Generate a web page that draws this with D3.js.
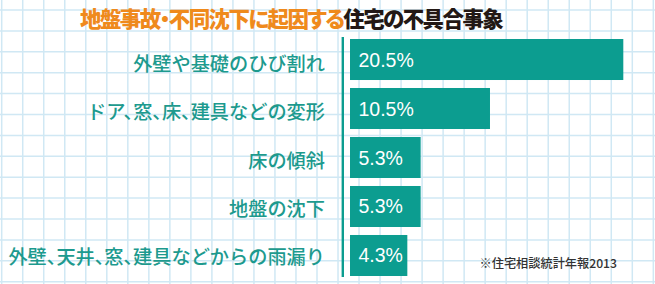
<!DOCTYPE html>
<html>
<head>
<meta charset="utf-8">
<script src="https://cdn.jsdelivr.net/npm/d3@7"></script>
<style>
  body { margin: 0; background: #fff; }
  .cat, .note { font-feature-settings: "halt"; }
  .title { font-feature-settings: "palt"; }
</style>
</head>
<body>
<div id="chart"></div>
<script>
// Data
const categories = [
    "外壁や基礎のひび割れ",
    "ドア、窓、床、建具などの変形",
    "床の傾斜",
    "地盤の沈下",
    "外壁、天井、窓、建具などからの雨漏り"
];
const values = [20.5, 10.5, 5.3, 5.3, 4.3];
const valueLabels = ["20.5%", "10.5%", "5.3%", "5.3%", "4.3%"];
const titleOrange = "地盤事故・不同沈下に起因する";
const titleBlack = "住宅の不具合事象";
const sourceNote = "※住宅相談統計年報2013";

function drawChart() {
    const width = 655;
    const height = 284;
    const teal = "#0c9d90";

    const svg = d3.select('#chart')
        .append('svg')
        .attr('width', width)
        .attr('height', height);

    // graph paper background
    const grid = svg.append('g').attr('class', 'grid')
        .attr('stroke', '#d0e8f4')
        .attr('stroke-width', 1.5);
    grid.selectAll('.vline')
        .data(d3.range(1.7, width + 1, 21.02))
        .enter().append('line')
        .attr('x1', d => d).attr('x2', d => d)
        .attr('y1', 0).attr('y2', height);
    grid.selectAll('.hline')
        .data(d3.range(10, height + 1, 20.9))
        .enter().append('line')
        .attr('y1', d => d).attr('y2', d => d)
        .attr('x1', 0).attr('x2', width);

    // Scales
    const x = d3.scaleLinear()
        .domain([0, 20.5])
        .range([350, 623.3]);

    const y = d3.scaleBand()
        .domain(categories)
        .range([39, 276])
        .paddingInner(0.163)
        .paddingOuter(0);

    const labelY = d3.scalePoint()
        .domain(categories)
        .range([63, 256]);

    // Bars
    svg.selectAll('.bar')
        .data(values)
        .enter().append('rect')
        .attr('class', 'bar')
        .attr('x', x(0))
        .attr('y', (d, i) => y(categories[i]))
        .attr('width', d => x(d) - x(0))
        .attr('height', y.bandwidth())
        .attr('fill', teal);

    // Value labels inside bars
    svg.selectAll('.value')
        .data(valueLabels)
        .enter().append('text')
        .attr('class', 'value')
        .attr('x', x(0) + 8.5)
        .attr('y', (d, i) => y(categories[i]) + y.bandwidth() / 2 + 7)
        .attr('fill', '#fff')
        .style('font-family', '"Liberation Sans", Arial, sans-serif')
        .style('font-size', '19.5px')
        .text(d => d);

    // Axis line (left of bars)
    const axis = svg.append('g')
        .attr('transform', 'translate(342.8, 0)')
        .call(d3.axisLeft(y).tickSize(0).tickFormat(''));
    axis.select('.domain')
        .attr('d', `M0,${y.range()[0] - 2}V${y.range()[1] + 1}`)
        .attr('stroke', teal)
        .attr('stroke-width', 2.4);

    // Category labels
    svg.selectAll('.cat')
        .data(categories)
        .enter().append('text')
        .attr('class', 'cat')
        .attr('x', 325)
        .attr('y', d => labelY(d))
        .attr('dominant-baseline', 'central')
        .attr('text-anchor', 'end')
        .attr('fill', '#1d9a8e')
        .style('font-family', '"Noto Sans CJK JP", sans-serif')
        .style('font-size', '19.2px')
        .style('font-weight', 500)
        .text(d => d);

    // Title
    const title = svg.append('text')
        .attr('class', 'title')
        .attr('x', 80)
        .attr('y', 26.5)
        .style('font-family', '"Noto Sans CJK JP", sans-serif')
        .style('font-size', '21.5px')
        .style('font-weight', 900)
        .style('letter-spacing', '-1.6px');
    title.append('tspan').attr('fill', '#ef8a1c').text(titleOrange);
    title.append('tspan').attr('fill', '#231815').text(titleBlack);

    // Source note
    svg.append('text')
        .attr('class', 'note')
        .attr('x', 617)
        .attr('y', 262.5)
        .attr('dominant-baseline', 'central')
        .attr('text-anchor', 'end')
        .attr('fill', '#333')
        .style('font-family', '"Noto Sans CJK JP", sans-serif')
        .style('font-size', '12.2px')
        .style('font-weight', 500)
        .text(sourceNote);
}

document.addEventListener('DOMContentLoaded', drawChart);
</script>
</body>
</html>
